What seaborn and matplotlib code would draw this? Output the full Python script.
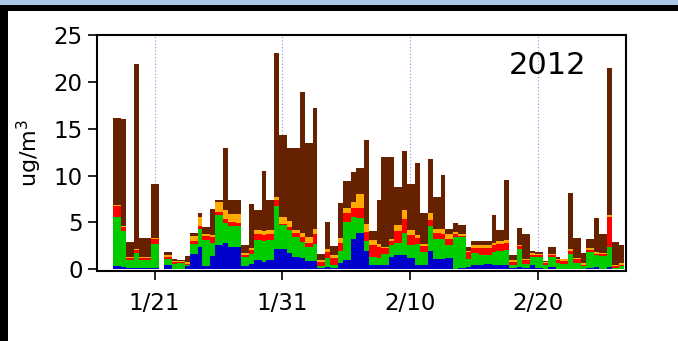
import numpy as np
import pandas as pd
import matplotlib
matplotlib.use("Agg")
import matplotlib.pyplot as plt
from matplotlib.patches import Rectangle
import seaborn as sns

# ---------------- data ----------------
# Filter samples alternate: day (09-18h) and night (18-09h)
first_sample_start = "2012-01-17 18:00"
last_sample_end = "2012-02-26 18:00"
reference_date = "2012-01-21"
nan = np.nan

blue_vals = [0.3, 0.2, 0.1, 0.1, 0.1, 0.1, 0.15, nan, 0.43, 0.05,
             0.07, 0.4, 1.6, 2.35, 0.3, 1.42, 2.56, 2.81, 2.39, 2.39,
             0.32, 0.6, 0.96, 0.78, 1.03, 2.14, 2.14, 1.78, 1.32, 1.25,
             0.89, 0.89, 0.14, 0.25, 0.14, 0.71, 0.96, 3.28, 3.92, 1.96,
             0.5, 0.5, 0.5, 1.3, 1.5, 1.5, 1.21, 0.43, 0.43, 1.92,
             1.14, 1.14, 1.21, 0.05, 0.1, 0.25, 0.43, 0.5, 0.6, 0.5,
             0.43, 0.5, 0.14, 0.25, 0.14, 0.43, 0.1, 0.05, 0.25, 0.07,
             0.07, 0.07, 0.07, 0.05, 0.14, 0.25, 0.07, 0.25, 0.07, 0.07]
green_vals = [5.3, 3.85, 0.85, 1.65, 0.85, 0.85, 2.6, nan, 0.7, 0.55,
              0.55, 0.05, 1.1, 1.96, 2.87, 1.4, 3.21, 2.14, 2.21, 2.21,
              0.95, 1.0, 2.14, 2.25, 2.07, 4.63, 2.56, 2.46, 2.13, 1.67,
              1.5, 1.85, 0.22, 1.0, 0.29, 1.21, 4.1, 2.31, 1.6, 1.07,
              0.82, 0.71, 1.17, 1.3, 1.35, 2.42, 1.35, 2.24, 1.42, 2.67,
              2.14, 2.06, 1.43, 3.4, 3.3, 0.89, 1.35, 1.0, 0.9, 1.35,
              1.49, 1.53, 0.36, 1.89, 0.46, 0.89, 1.2, 0.4, 1.07, 0.64,
              0.53, 1.6, 0.64, 0.31, 1.71, 1.25, 1.35, 2.14, 0.07, 0.29]
red_vals = [1.1, 0.45, 0.25, 0.35, 0.25, 0.25, 0.5, nan, 0.15, 0.2,
            0.2, 0.1, 0.3, 0.36, 0.39, 0.6, 0.36, 0.39, 0.46, 0.36,
            0.3, 0.5, 0.64, 0.6, 0.71, 0.6, 0.18, 0.28, 0.47, 0.53,
            0.46, 1.07, 0.42, 0.6, 0.82, 0.89, 0.96, 0.96, 1.03, 0.96,
            1.24, 1.18, 0.61, 0.4, 1.21, 1.49, 1.07, 0.71, 0.64, 0.65,
            0.6, 0.6, 0.56, 0.36, 0.2, 0.71, 0.5, 0.8, 0.78, 0.71,
            0.82, 0.82, 0.28, 0.36, 0.36, 0.25, 0.2, 0.2, 0.18, 0.25,
            0.25, 0.29, 0.36, 0.14, 0.18, 0.17, 0.18, 3.2, 0.22, 0.14]
orange_vals = [0.2, 0.1, 0.12, 0.1, 0.1, 0.1, 0.1, nan, 0.25, 0.1,
               0.08, 0.25, 0.55, 0.92, 0.25, 0.2, 1.06, 0.96, 0.89, 0.89,
               0.2, 0.15, 0.43, 0.47, 0.36, 0.36, 0.71, 0.61, 0.32, 0.47,
               0.6, 0.53, 0.18, 0.29, 0.25, 0.57, 0.57, 0.64, 1.46, 0.82,
               0.54, 0.28, 0.11, 0.2, 0.71, 0.89, 0.54, 0.25, 0.25, 0.78,
               0.46, 0.54, 0.54, 0.18, 0.2, 0.07, 0.28, 0.3, 0.36, 0.29,
               0.25, 0.25, 0.18, 0.14, 0.18, 0.21, 0.15, 0.1, 0.17, 0.11,
               0.22, 0.18, 0.14, 0.21, 0.25, 0.18, 0.18, 0.18, 0.07, 0.21]
brown_vals = [9.2, 11.4, 1.6, 19.7, 2.0, 2.0, 5.7, nan, 0.3, 0.17,
              0.1, 0.65, 0.33, 0.43, 0.68, 2.85, 0.18, 6.59, 1.49, 1.59,
              0.87, 4.75, 2.2, 6.37, 3.2, 15.31, 8.73, 7.76, 8.65, 14.95,
              10.05, 12.83, 0.71, 2.92, 0.96, 3.74, 2.85, 3.21, 2.82, 8.97,
              1.0, 4.7, 9.54, 8.73, 4.06, 6.3, 4.98, 7.66, 3.28, 5.7,
              3.39, 5.7, 0.53, 1.0, 0.97, 0.47, 0.43, 0.4, 0.42, 2.92,
              1.18, 6.4, 0.54, 1.78, 2.67, 0.14, 0.2, 0.1, 0.72, 0.25,
              0.07, 6.05, 2.14, 1.04, 1.0, 3.67, 2.03, 15.73, 2.49, 1.85]

species_top_to_bottom = ["brown", "orange", "red", "green", "blue"]
species_colors = {"brown": "#662200", "orange": "#FFAA00", "red": "#FF0000",
                  "green": "#00CC00", "blue": "#0000CC"}

tick_dates = ["2012-01-21", "2012-01-31", "2012-02-10", "2012-02-20"]
tick_labels = ["1/21", "1/31", "2/10", "2/20"]
y_ticks = [0, 5, 10, 15, 20, 25]
year_label = "2012"
y_label = "ug/m$^3$"

# ---------------- sample schedule -> bin edges (days since reference) ----------------
t_first = pd.Timestamp(first_sample_start)
t_last = pd.Timestamp(last_sample_end)
ref = pd.Timestamp(reference_date)
edges_ts = []
for d in pd.date_range(t_first.normalize(), t_last.normalize(), freq="D"):
    for h in (9, 18):
        t = d + pd.Timedelta(hours=h)
        if t_first <= t <= t_last:
            edges_ts.append(t)
edges = [float((t - ref) / pd.Timedelta(days=1)) for t in edges_ts]
centers = [0.5 * (a + b) for a, b in zip(edges[:-1], edges[1:])]

series = {"blue": blue_vals, "green": green_vals, "red": red_vals,
          "orange": orange_vals, "brown": brown_vals}
rows = []
for sp, vals in series.items():
    for c, v in zip(centers, vals):
        if not np.isnan(v):
            rows.append({"time": c, "species": sp, "conc": v})
df = pd.DataFrame(rows)

# ---------------- plot ----------------
sns.set_style("ticks")
plt.rcParams["font.family"] = ["DejaVu Sans"]

W, H = 678, 341
fig = plt.figure(figsize=(W / 100, H / 100), dpi=100)
fig.patch.set_facecolor("white")
ax = fig.add_axes([96.5 / W, 1 - 270.5 / H, (626 - 96.5) / W, (270.5 - 35) / H])

sns.histplot(data=df, x="time", weights="conc", hue="species",
             hue_order=species_top_to_bottom, palette=species_colors,
             bins=edges, multiple="stack", element="bars", stat="count",
             linewidth=0, alpha=1, legend=False, ax=ax)

tick_pos = [(pd.Timestamp(t) - ref) / pd.Timedelta(days=1) for t in tick_dates]
px_per_day = (538 - 154.5) / 30.0
ax.set_xlim(-(154.5 - 96.5) / px_per_day, (626 - 154.5) / px_per_day)
ax.set_ylim(-0.13, 25)
ax.set_xticks(tick_pos)
ax.set_xticklabels(tick_labels)
ax.set_yticks(y_ticks)
ax.set_xlabel("")
ax.set_ylabel(y_label, fontsize=16, labelpad=7, color="black")

ax.grid(axis="x", linestyle=(0, (1, 2)), color="#8f8fe6", linewidth=0.8)
ax.grid(axis="y", visible=False)
ax.set_axisbelow(True)

for s in ax.spines.values():
    s.set_visible(True)
    s.set_linewidth(1.5)
    s.set_color("black")
ax.tick_params(axis="both", direction="out", length=6.5, width=1.2,
               labelsize=16.5, colors="black")
ax.tick_params(axis="x", pad=9)
ax.tick_params(axis="y", pad=3.5)

ax.text(0.851, 0.872, year_label, transform=ax.transAxes, ha="center",
        va="center", fontsize=22, color="black")

# window frame decoration
fig.add_artist(Rectangle((0, 1 - 4.5 / H), 1, 4.5 / H, transform=fig.transFigure,
                         facecolor="#a9c8e6", edgecolor="none"))
fig.add_artist(Rectangle((0, 1 - 10.5 / H), 1, 6 / H, transform=fig.transFigure,
                         facecolor="black", edgecolor="none"))
fig.add_artist(Rectangle((0, 0), 7.5 / W, 1 - 4.5 / H, transform=fig.transFigure,
                         facecolor="black", edgecolor="none"))

fig.savefig("out.png", dpi=100)
